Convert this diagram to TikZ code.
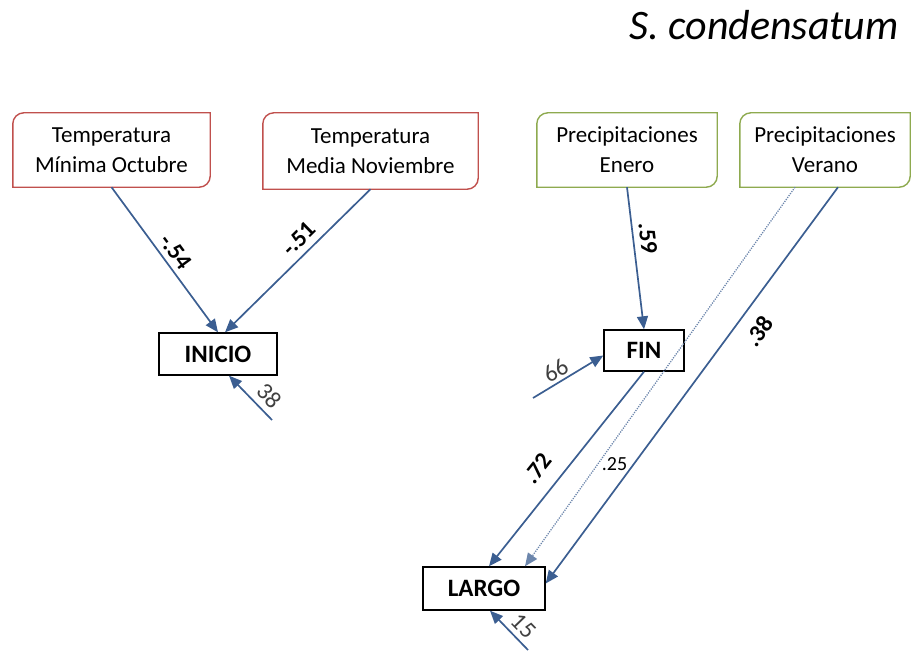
\documentclass[tikz,border=0pt]{standalone}
\usepackage{fontspec}
\setmainfont{Carlito}
\usetikzlibrary{arrows.meta}
\definecolor{tempred}{HTML}{C0504D}
\definecolor{precgreen}{HTML}{8EAA4F}
\definecolor{pathblue}{HTML}{3B5E91}
% box with two round corners (top left, bottom right)
\newcommand{\leafbox}[2]{%
  \draw[#2,line width=1.4pt] (#1.south west) -- ([yshift=-11pt]#1.north west)
    arc[start angle=180,end angle=90,radius=11pt] -- (#1.north east)
    -- ([yshift=11pt]#1.south east) arc[start angle=0,end angle=-90,radius=11pt] -- cycle;}
\begin{document}
\begin{tikzpicture}[x=1pt,y=-1pt,
  varbox/.style={align=center,minimum width=#1,minimum height=74pt,inner sep=0pt,font=\fontsize{23}{30}\selectfont},
  resbox/.style={draw=black,line width=1.4pt,minimum height=42pt,inner sep=0pt,font=\fontsize{25}{30}\selectfont\bfseries},
  effect/.style={pathblue,line width=1.7pt,-{Triangle[length=13pt,width=11pt]}},
  coef/.style={sloped,black,font=\fontsize{24}{28}\selectfont\bfseries,inner sep=1pt},
  errlab/.style={sloped,black!75,font=\fontsize{24}{28}\selectfont,inner sep=1pt}]
\useasboundingbox (0,0) rectangle (912,650);
\node[anchor=base,font=\fontsize{42}{46}\selectfont\itshape] (titulo) at (764,40) {S. condensatum};
% variables climaticas
\node[varbox=197pt] (tmin) at (111.5,150) {Temperatura\\Mínima Octubre};
\node[varbox=215pt,minimum height=76pt] (tmed) at (370.5,151) {Temperatura\\Media Noviembre};
\node[varbox=180pt] (penero) at (627,150) {Precipitaciones\\Enero};
\node[varbox=170pt] (pverano) at (825,150) {Precipitaciones\\Verano};
\leafbox{tmin}{tempred}
\leafbox{tmed}{tempred}
\leafbox{penero}{precgreen}
\leafbox{pverano}{precgreen}
% fenologia
\node[resbox,minimum width=118pt] (inicio) at (218,354) {INICIO};
\node[resbox,minimum width=80pt,minimum height=41pt] (fin) at (644,350.5) {FIN};
\node[resbox,minimum width=122pt,minimum height=43pt] (largo) at (484,588.5) {LARGO};
\coordinate (einicio) at (272,420);
\coordinate (efin) at (533,398);
\coordinate (elargo) at (528,650);
% coeficientes
\draw[effect] (tmin.south) -- node[coef,above=4pt,pos=0.5] {-.54} (inicio.north);
\draw[effect] (tmed.south) -- node[coef,above=5pt,pos=0.42] {-.51} ([xshift=7pt]inicio.north);
\draw[effect] (einicio) -- node[errlab,above=5pt,pos=0.31] {38} ([xshift=11pt]inicio.south);
\draw[effect] (penero.south) -- node[coef,above=5pt,pos=0.37] {.59} (fin.north);
\draw[effect] (efin) -- node[errlab,above=2pt,pos=0.41] {66} ([yshift=-5pt]fin.west);
\draw[effect] (fin.south) -- node[coef,above=13pt,pos=0.57] {.72} ([xshift=5pt]largo.north);
\draw[effect,pathblue!75,line width=1.3pt,dash pattern=on 1.2pt off 1.2pt] ([xshift=-30pt]pverano.south) -- node[anchor=west,pos=0.73,black,font=\fontsize{20}{24}\selectfont] {.25} ([xshift=41pt]largo.north);
\draw[effect] ([xshift=13pt]pverano.south) -- node[coef,below=12pt,pos=0.33] {.38} ([yshift=5pt]largo.east);
\draw[effect] (elargo) -- node[errlab,above=4pt,pos=0.37] {15} ([xshift=6pt]largo.south);
\end{tikzpicture}
\end{document}
